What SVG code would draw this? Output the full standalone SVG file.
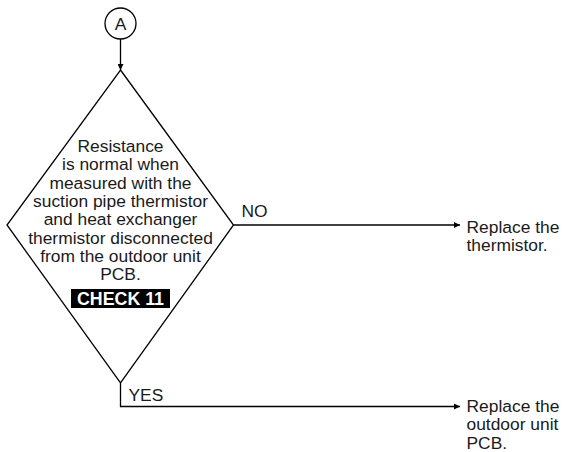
<svg xmlns="http://www.w3.org/2000/svg" width="568" height="452" viewBox="0 0 568 452">
  <style>
    .ln { fill: none; stroke: #000; stroke-width: 1.3; }
    .t { font-family: "Liberation Sans", Arial, sans-serif; font-size: 17.4px; fill: #1a1a1a; }
    .r { font-size: 17.4px; }
    .c { text-anchor: middle; }
    .chk { font-family: "Liberation Sans", Arial, sans-serif; font-size: 17.8px; font-weight: bold; fill: #fff; text-anchor: middle; }
  </style>
  <defs>
    <marker id="arr" viewBox="0 0 10 10" refX="10" refY="5" markerWidth="10" markerHeight="6" markerUnits="userSpaceOnUse" orient="auto">
      <path d="M0,0 L10,5 L0,10 Z" fill="#000"/>
    </marker>
  </defs>
  <rect width="568" height="452" fill="#fff"/>

  <g id="connectors">
    <line class="ln" x1="120.5" y1="39" x2="120.5" y2="70" marker-end="url(#arr)"/>
    <line class="ln" x1="233.5" y1="225" x2="460" y2="225" marker-end="url(#arr)"/>
    <polyline class="ln" points="120.5,383 120.5,406.5 460,406.5" marker-end="url(#arr)"/>
    <text class="t" x="241.5" y="216.5">NO</text>
    <text class="t" x="128.5" y="400.7">YES</text>
  </g>

  <g id="connector-A">
    <circle class="ln" cx="120.5" cy="23.5" r="15.5" fill="#fff"/>
    <text class="t c" x="120.5" y="29.8">A</text>
  </g>

  <g id="decision">
    <polygon class="ln" points="120.5,70 233.5,225 120.5,383 7,225" fill="#fff"/>
    <text class="t c" x="120.5" y="152">Resistance</text>
    <text class="t c" x="120.5" y="170.3">is normal when</text>
    <text class="t c" x="120.5" y="188.6">measured with the</text>
    <text class="t c" x="120.5" y="206.9">suction pipe thermistor</text>
    <text class="t c" x="120.5" y="225.2">and heat exchanger</text>
    <text class="t c" x="120.5" y="243.6">thermistor disconnected</text>
    <text class="t c" x="120.5" y="262">from the outdoor unit</text>
    <text class="t c" x="120.5" y="280.3">PCB.</text>
    <rect x="71" y="289" width="99" height="19" fill="#000"/>
    <text class="chk" x="120.5" y="305">CHECK 11</text>
  </g>

  <g id="replace-thermistor">
    <text class="t r" x="466.5" y="233">Replace the</text>
    <text class="t r" x="466.5" y="251.3">thermistor.</text>
  </g>

  <g id="replace-pcb">
    <text class="t r" x="466.5" y="412">Replace the</text>
    <text class="t r" x="466.5" y="430.3">outdoor unit</text>
    <text class="t r" x="466.5" y="448.6">PCB.</text>
  </g>
</svg>
